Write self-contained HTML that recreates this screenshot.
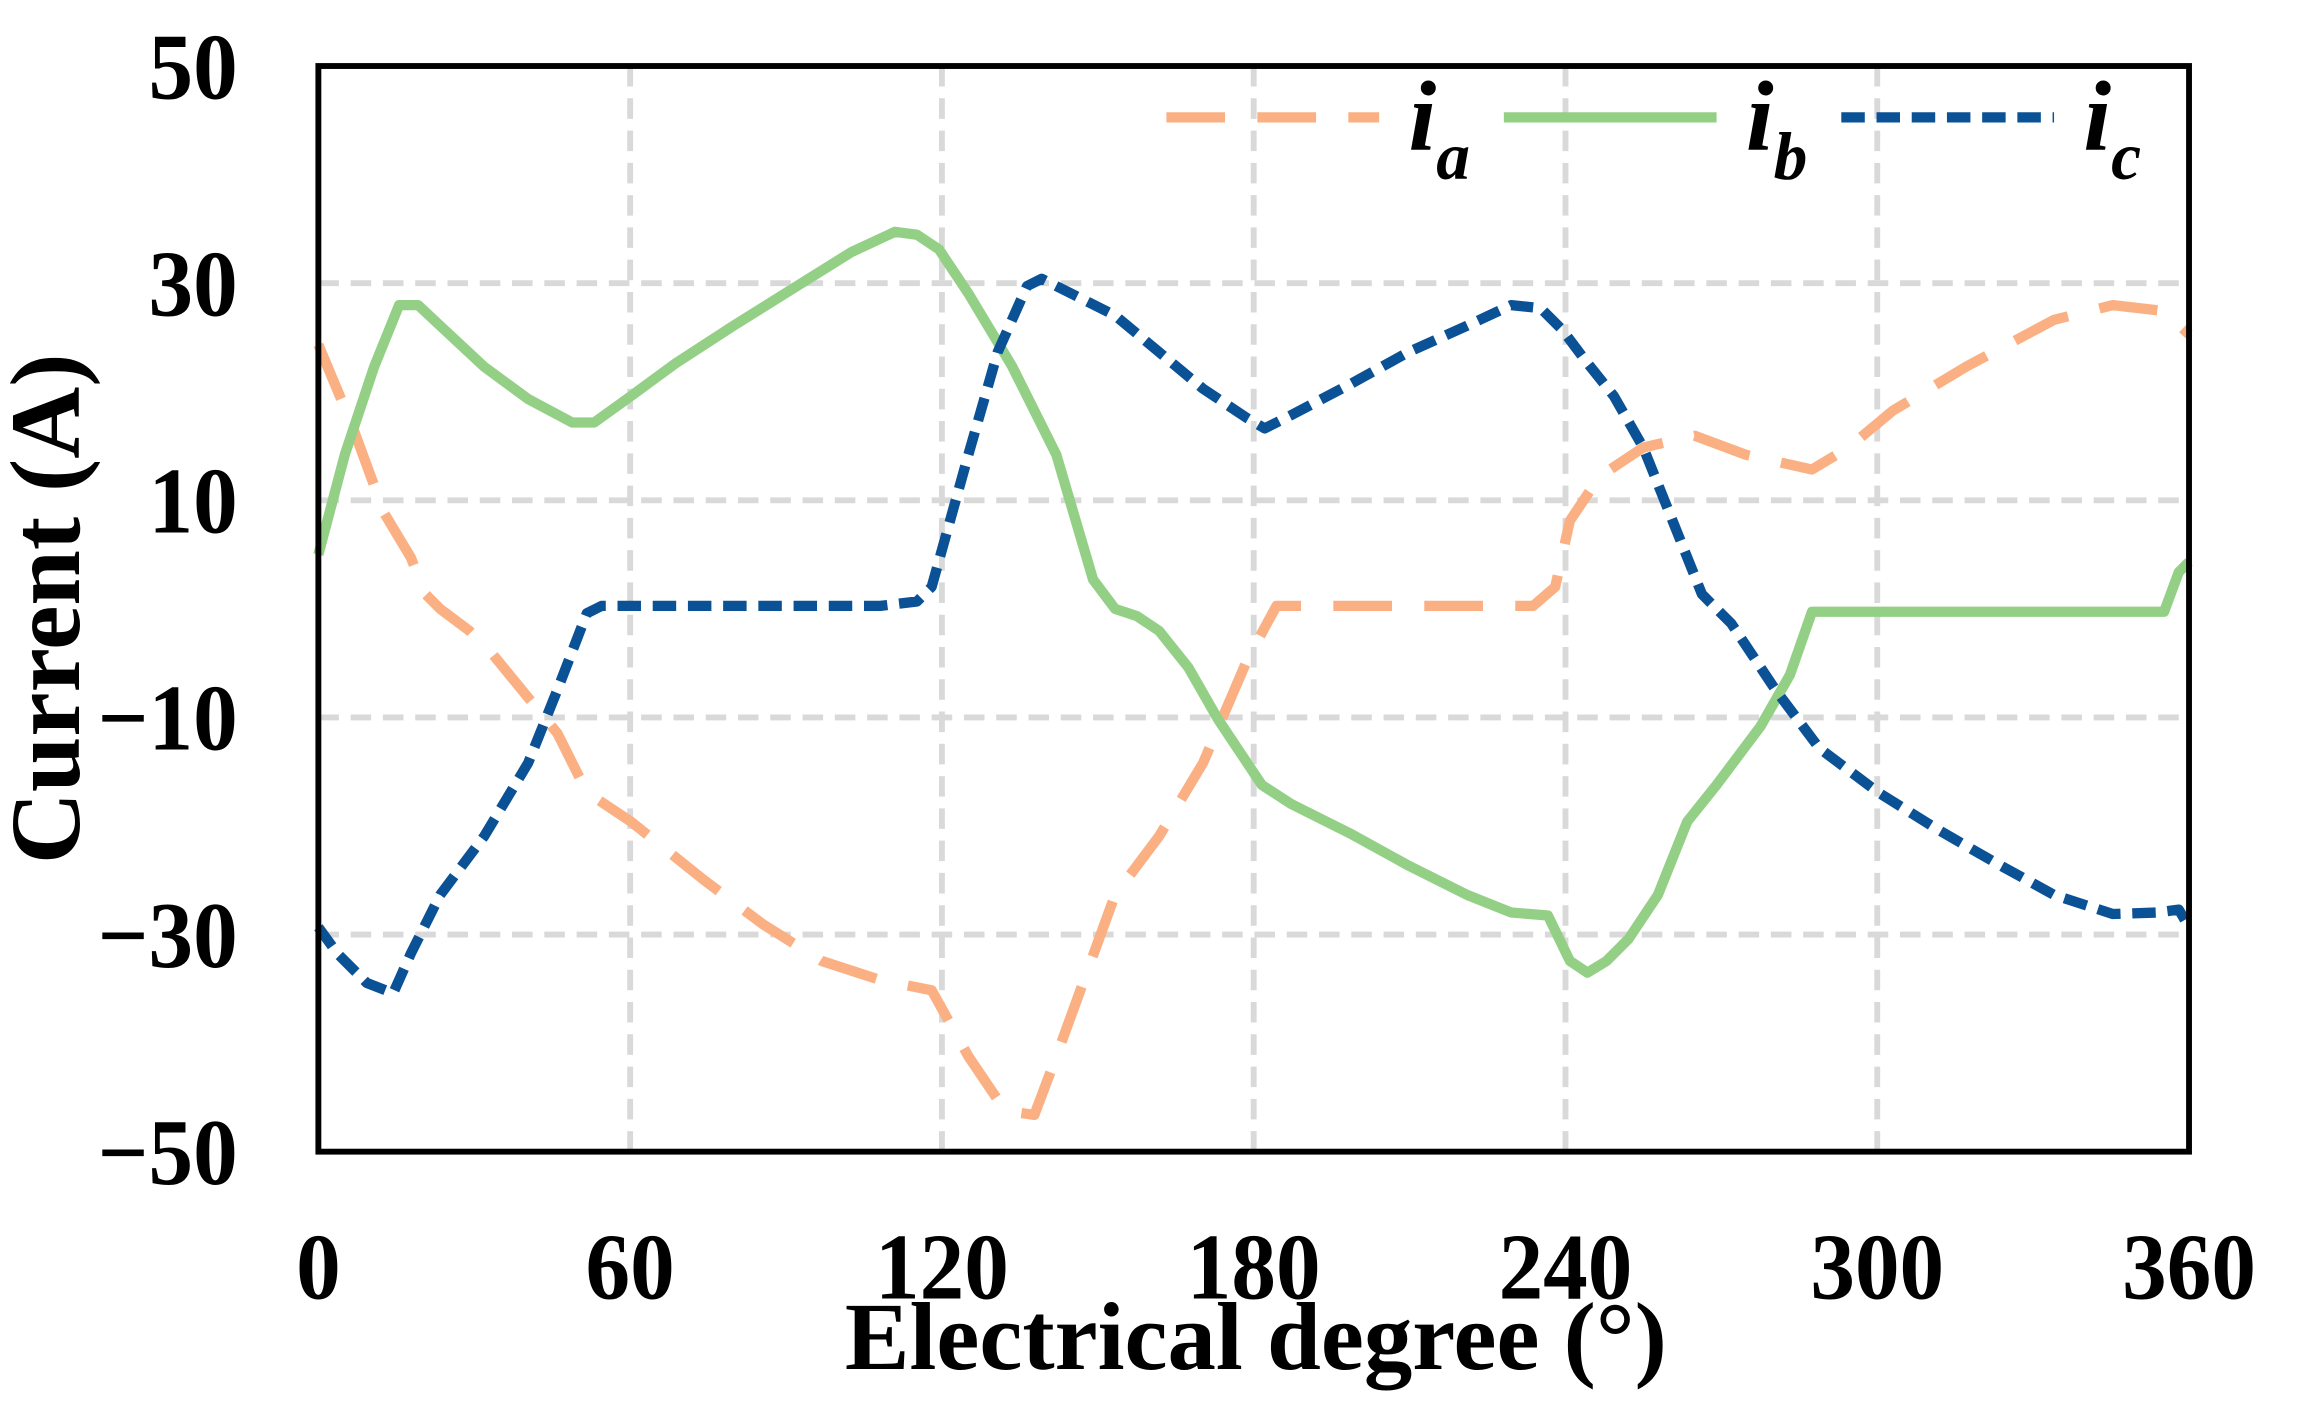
<!DOCTYPE html>
<html><head><style>html,body{margin:0;padding:0;background:#fff}svg{display:block}</style></head><body>
<svg width="2302" height="1404" viewBox="0 0 1569 957" preserveAspectRatio="none" xmlns="http://www.w3.org/2000/svg" font-family="Liberation Serif, serif" font-weight="bold">
<g stroke="#d9d9d9" stroke-width="4" stroke-dasharray="14,8">
<line x1="217" y1="193" x2="1492" y2="193"/><line x1="217" y1="341" x2="1492" y2="341"/>
<line x1="217" y1="489" x2="1492" y2="489"/><line x1="217" y1="637" x2="1492" y2="637"/>
<line x1="429.5" y1="45" x2="429.5" y2="785"/><line x1="642" y1="45" x2="642" y2="785"/>
<line x1="854.5" y1="45" x2="854.5" y2="785"/><line x1="1067" y1="45" x2="1067" y2="785"/>
<line x1="1279.5" y1="45" x2="1279.5" y2="785"/>
</g>
<g fill="none" stroke-width="7" stroke-linejoin="round">
<polyline stroke="#fbb083" stroke-dasharray="40,22" points="217,235 240,290 262,350 280,380 290,405 300,415 320,430 335,445 380,500 400,540 430,560 480,600 520,630 560,655 600,668 635,675 660,720 685,757 705,760 720,720 760,610 790,570 820,520 850,450 870,413 1045,413 1060,400 1070,355 1090,325 1120,305 1155,297 1190,310 1235,320 1260,305 1290,280 1340,250 1400,218 1440,208 1475,212 1492,228"/>
<polyline stroke="#93d086" points="217,378 235,310 255,250 272,208 285,208 300,222 330,250 360,272 390,288 405,288 430,270 460,248 500,222 540,197 580,172 610,158 625,160 640,170 660,200 690,250 720,310 745,395 760,415 775,420 790,430 810,455 830,490 860,535 880,548 920,568 960,590 1000,610 1030,622 1055,624 1070,655 1082,663 1095,655 1110,640 1130,610 1150,560 1170,535 1200,495 1220,460 1235,417 1475,417 1485,390 1492,383"/>
<polyline stroke="#0a5196" stroke-dasharray="16,8" points="217,632 230,650 250,670 268,677 280,650 300,610 330,570 360,520 380,470 400,418 410,413 600,413 625,410 635,400 660,310 680,240 700,195 710,190 730,200 760,215 790,240 820,265 850,285 862,292 880,283 920,262 960,240 1000,222 1030,208 1050,210 1065,225 1080,245 1100,270 1120,305 1140,355 1160,405 1180,425 1210,470 1240,510 1280,540 1320,565 1360,588 1400,610 1440,623 1470,622 1485,620 1492,632"/>
<line x1="795" y1="80" x2="940" y2="80" stroke="#fbb083" stroke-dasharray="40,22"/>
<line x1="1025" y1="80" x2="1170" y2="80" stroke="#93d086"/>
<line x1="1255" y1="80" x2="1400" y2="80" stroke="#0a5196" stroke-dasharray="16,8"/>
</g>
<rect x="217" y="45" width="1275" height="740" fill="none" stroke="#000" stroke-width="4"/>
<g font-size="68" font-style="italic">
<text x="960" y="102">i<tspan font-size="46" dy="20">a</tspan></text>
<text x="1190" y="102">i<tspan font-size="46" dy="20">b</tspan></text>
<text x="1420" y="102">i<tspan font-size="46" dy="20">c</tspan></text>
</g>
<g font-size="64" text-anchor="end">
<text transform="translate(162,67) scale(0.95,1)">50</text>
<text transform="translate(162,215) scale(0.95,1)">30</text>
<text transform="translate(162,363) scale(0.95,1)">10</text>
<text transform="translate(162,511) scale(0.95,1)">−10</text>
<text transform="translate(162,659) scale(0.95,1)">−30</text>
<text transform="translate(162,807) scale(0.95,1)">−50</text>
</g>
<g font-size="64" text-anchor="middle">
<text transform="translate(217,885) scale(0.95,1)">0</text>
<text transform="translate(429.5,885) scale(0.95,1)">60</text>
<text transform="translate(642,885) scale(0.95,1)">120</text>
<text transform="translate(854.5,885) scale(0.95,1)">180</text>
<text transform="translate(1067,885) scale(0.95,1)">240</text>
<text transform="translate(1279.5,885) scale(0.95,1)">300</text>
<text transform="translate(1492,885) scale(0.95,1)">360</text>
<text transform="translate(856,933)" font-size="66">Electrical degree (°)</text>
<text transform="translate(54,415) rotate(-90)" font-size="68">Current (A)</text>
</g>
</svg>
</body></html>
